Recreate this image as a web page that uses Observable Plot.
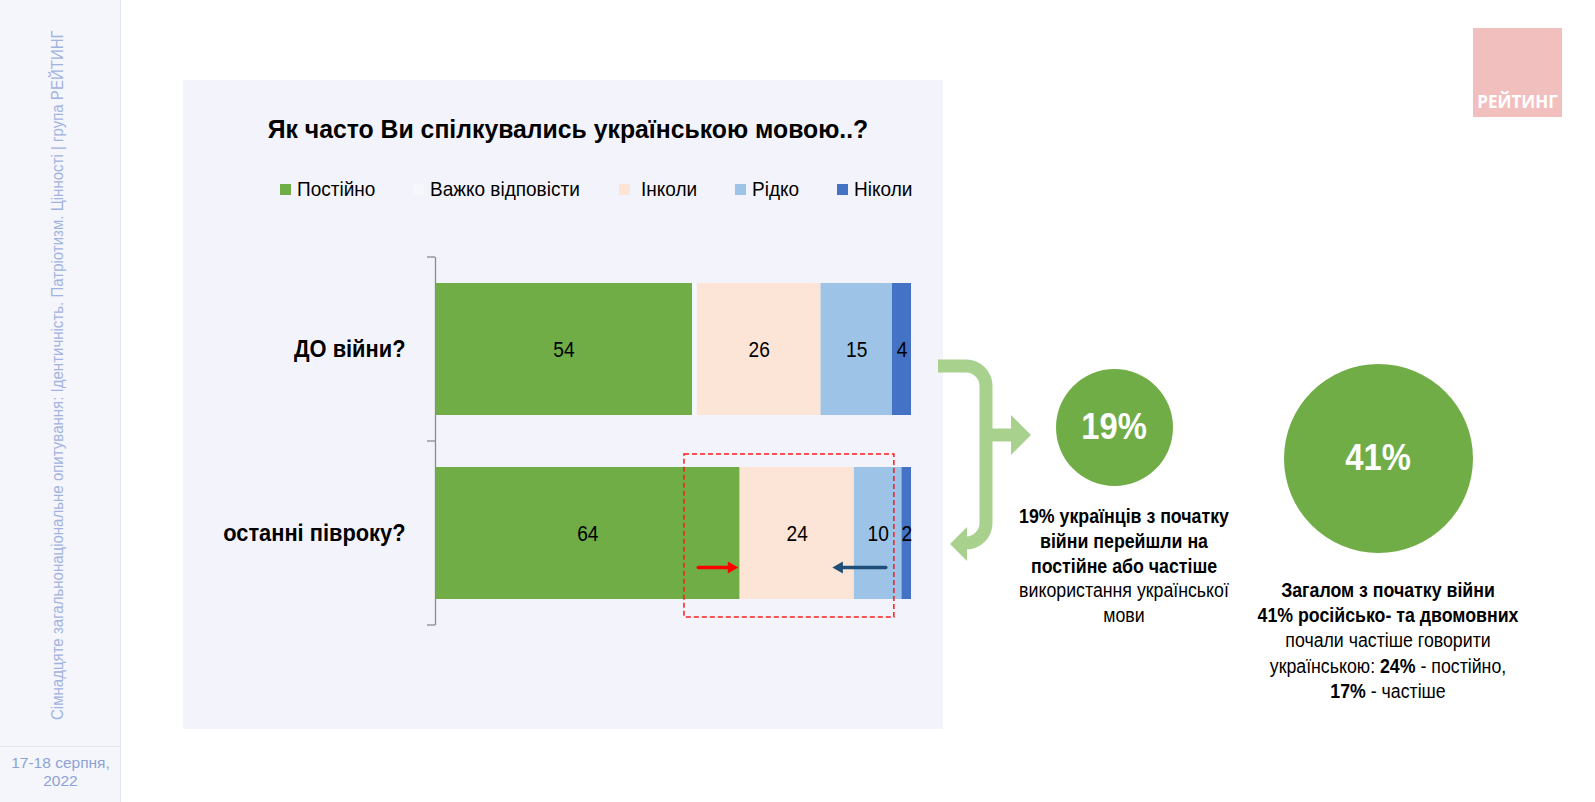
<!DOCTYPE html>
<html>
<head>
<meta charset="utf-8">
<script src="https://cdn.jsdelivr.net/npm/d3@7"></script>
<script src="https://cdn.jsdelivr.net/npm/@observablehq/plot@0.6"></script>
<style>
  html, body { margin: 0; padding: 0; background: #fff; }
  #page { position: relative; width: 1595px; height: 802px; overflow: hidden; background: #fff;
          font-family: "Liberation Sans", Arial, sans-serif; color: #000; }
  .abs { position: absolute; }
  #sidebar { left: 0; top: 0; width: 120px; height: 802px; background: #f4f6fc; border-right: 1px solid #e2e6f0; }
  #sidesep { left: 0; top: 746px; width: 120px; height: 1px; background: #e2e6f0; }
  #vtext { left: 58px; top: 375px; white-space: nowrap; font-size: 16px; line-height: 18px; color: #a3b3df; }
  #date { left: 0; top: 754px; width: 121px; text-align: center;
          font-size: 15.5px; line-height: 18px; color: #8ea2d6; }
  #panel { left: 183px; top: 80px; width: 760px; height: 649px; background: #f3f4fb; }
  #title { left: 182px; top: 114px; width: 772px; text-align: center; font-weight: bold; font-size: 26px; line-height: 30px;
           transform: scaleX(0.953); transform-origin: 50% 50%; white-space: nowrap; }
  .lg-sw { width: 11px; height: 11px; top: 184px; }
  .lg-tx { top: 177px; font-size: 21px; line-height: 24px; white-space: nowrap; transform: scaleX(0.905); transform-origin: 0 50%; }
  #chart { left: 182px; top: 240px; }
  .circle { border-radius: 50%; background: #70ad47; color: #fff; font-weight: bold; display: flex;
            align-items: center; justify-content: center; }
  .circle span { display: inline-block; transform: scaleX(0.91); }
  .note { text-align: center; font-size: 19.5px; white-space: nowrap; transform: scaleX(0.91); transform-origin: 50% 0; }
  #logo { left: 1473px; top: 28px; width: 89px; height: 89px; background: #f2bfbf; }
  #logotext { left: 1463px; top: 92px; width: 109px; text-align: center; color: #fff; font-weight: bold;
              font-family: "Open Sans", "Liberation Sans", sans-serif; font-size: 17px; line-height: 20px; }
</style>
</head>
<body>
<div id="page">
  <div id="sidebar" class="abs"></div>
  <div id="sidesep" class="abs"></div>
  <div id="vtext" class="abs"></div>
  <div id="date" class="abs"></div>
  <div id="panel" class="abs"></div>
  <div id="title" class="abs"></div>
  <div id="legend"></div>
  <div id="chart" class="abs"></div>
  <svg id="brace" class="abs" style="left:0;top:0" width="1595" height="802"></svg>
  <div id="c1" class="abs circle"></div>
  <div id="c2" class="abs circle"></div>
  <div id="n1" class="abs note"></div>
  <div id="n2" class="abs note"></div>
  <div id="logo" class="abs"></div>
  <div id="logotext" class="abs"></div>
</div>
<script>
// ---------- data ----------
const titleText = "Як часто Ви спілкувались українською мовою..?";
const categories = ["ДО війни?", "останні півроку?"];
const seriesNames = ["Постійно", "Важко відповісти", "Інколи", "Рідко", "Ніколи"];
const seriesColors = ["#70ad47", "#f6f7fb", "#fce4d6", "#9dc3e6", "#4472c4"];
const valuesBefore = [54, 1, 26, 15, 4];
const valuesLastHalfYear = [64, 0, 24, 10, 2];
const unlabeledSeries = ["Важко відповісти"];
const highlightBox = [{cat: "останні півроку?", x1: 52.3, x2: 96.4}];
const redArrow = [{cat: "останні півроку?", tail: 55.2, tip: 63.6}];
const blueArrow = [{cat: "останні півроку?", tail: 94.6, tip: 83.4}];
const circleValues = ["19%", "41%"];
const note1Lines = ["<b>19% українців з початку</b>", "<b>війни перейшли на</b>", "<b>постійне або частіше</b>", "використання української", "мови"];
const note2Lines = ["<b>Загалом з початку війни</b>", "<b>41% російсько- та двомовних</b>", "почали частіше говорити", "українською: <b>24%</b> - постійно,", "<b>17%</b> - частіше"];
const sidebarText = "Сімнадцяте загальнонаціональне опитування: Ідентичність. Патріотизм. Цінності | група РЕЙТИНГ";
const dateLines = ["17-18 серпня,", "2022"];
const logoText = "РЕЙТИНГ";

const FONT = '"Liberation Sans", Arial, sans-serif';

// ---------- static text ----------
document.getElementById("title").textContent = titleText;
document.getElementById("date").innerHTML = dateLines.join("<br>");
document.getElementById("logotext").textContent = logoText;

// sidebar vertical text, fitted to the reference length
const vt = document.getElementById("vtext");
vt.textContent = sidebarText;
const vw = vt.offsetWidth, vh = vt.offsetHeight;
const vs = 690 / vw;
vt.style.transformOrigin = "0 0";
vt.style.top = (375 - vw * vs / 2) + "px";
vt.style.transform = `translate(0px, ${vw * vs}px) rotate(-90deg) scaleX(${vs})`;
vt.style.left = (58 - vh / 2) + "px";

// legend
const legendSwatchX = [280, 413, 619, 735, 837];
const legendTextX = [297, 430, 641, 752, 854];
const legendRoot = d3.select("#legend");
seriesNames.forEach((s, i) => {
  legendRoot.append("div").attr("class", "abs lg-sw").style("left", legendSwatchX[i] + "px").style("background", seriesColors[i]);
  legendRoot.append("div").attr("class", "abs lg-tx").style("left", legendTextX[i] + "px").text(s);
});

// ---------- chart ----------
const rows = [];
[valuesBefore, valuesLastHalfYear].forEach((vals, ci) =>
  seriesNames.forEach((s, si) => rows.push({cat: categories[ci], series: s, value: vals[si]})));

const pInner = 0.283;
const bracket = (index, scales, values, dim) => {
  const x0 = scales.x(0);
  const top = dim.marginTop, bottom = dim.height - dim.marginBottom;
  const n = categories.length;
  const g = d3.create("svg:g").attr("stroke", "#8c8c8c").attr("stroke-width", 1.3);
  for (let k = 0; k <= n; k++) {
    const yy = top + k * (bottom - top) / n;
    g.append("line").attr("x1", x0 - 8).attr("x2", x0).attr("y1", yy).attr("y2", yy);
  }
  return g.node();
};

const arrowMarks = (data, color, dir) => [
  Plot.arrow(data, {x1: "tail", x2: "tip", y1: "cat", y2: "cat", stroke: color, strokeWidth: 3.5,
    headLength: 0, insetEnd: 8, dy: 34}),
  Plot.dot(data, {x: "tip", y: "cat", symbol: "triangle", r: 4.5, fill: color, stroke: "none",
    rotate: dir > 0 ? 90 : -90, dx: -6.9 * dir, dy: 34})
];

const chart = Plot.plot({
  width: 761,
  height: 400,
  marginLeft: 253,
  marginRight: 32,
  marginTop: 17,
  marginBottom: 15,
  style: {background: "transparent", fontFamily: FONT, fontSize: "22px", color: "#000", overflow: "visible"},
  x: {domain: [0, 100], axis: null},
  y: {domain: categories, paddingInner: pInner, paddingOuter: pInner / 2, label: null},
  color: {domain: seriesNames, range: seriesColors},
  marks: [
    Plot.barX(rows, Plot.stackX({x: "value", y: "cat", fill: "series", order: seriesNames})),
    Plot.text(rows, Plot.stackX({
      x: "value", y: "cat", z: "series", order: seriesNames,
      text: d => unlabeledSeries.includes(d.series) ? "" : String(d.value),
      fill: "#000", fontSize: 22
    })),
    Plot.axisY({tickSize: 0, tickPadding: 30, fontSize: 24, fontWeight: "bold", label: null}),
    Plot.ruleX([0], {stroke: "#8c8c8c", strokeWidth: 1.3}),
    bracket,
    Plot.barX(highlightBox, {x1: "x1", x2: "x2", y: "cat", fill: "none", stroke: "#ff1a1a",
      strokeWidth: 1.5, strokeDasharray: "5,3", insetTop: -13, insetBottom: -18}),
    ...arrowMarks(redArrow, "#ff0000", 1),
    ...arrowMarks(blueArrow, "#1f4e79", -1)
  ]
});
document.getElementById("chart").appendChild(chart);

// narrow the chart's texts horizontally (the reference uses a condensed face)
function squeeze(el, s) {
  const t = el.getAttribute("transform") || "";
  const xa = el.getAttribute("x");
  let x = 0;
  if (xa != null && /^-?[\d.]+$/.test(xa.trim())) { x = +xa; el.setAttribute("x", 0); }
  el.setAttribute("transform", `${t} translate(${x},0) scale(${s},1)`);
}
d3.select(chart).selectAll('g[aria-label="y-axis tick label"] text').each(function() { this.style.fontWeight = "bold"; squeeze(this, 0.91); });
d3.select(chart).selectAll('g[aria-label="text"] text').each(function() { squeeze(this, 0.87); });

// ---------- right-side infographic ----------
const brace = d3.select("#brace");
const braceColor = "#a9d18e";
brace.append("path")
  .attr("d", "M938,366 H966 A20,20 0 0 1 986,386 V523 A20,20 0 0 1 966,543 H962")
  .attr("fill", "none").attr("stroke", braceColor).attr("stroke-width", 13);
brace.append("path").attr("d", "M986,435 H1013").attr("stroke", braceColor).attr("stroke-width", 13);
brace.append("polygon").attr("points", "1031,435 1011,415 1011,455").attr("fill", braceColor);
brace.append("polygon").attr("points", "950,544 967,527 967,561").attr("fill", braceColor);

const c1 = document.getElementById("c1");
Object.assign(c1.style, {left: (1114 - 58.5) + "px", top: (427 - 58.5) + "px", width: "117px", height: "117px", fontSize: "36px"});
c1.innerHTML = `<span>${circleValues[0]}</span>`;
const c2 = document.getElementById("c2");
Object.assign(c2.style, {left: (1378 - 94.5) + "px", top: (458 - 94.5) + "px", width: "189px", height: "189px", fontSize: "36px"});
c2.innerHTML = `<span>${circleValues[1]}</span>`;

const n1 = document.getElementById("n1");
Object.assign(n1.style, {left: (1124 - 160) + "px", width: "320px", top: "504px", lineHeight: "24.8px"});
n1.innerHTML = note1Lines.join("<br>");
const n2 = document.getElementById("n2");
Object.assign(n2.style, {left: (1388 - 160) + "px", width: "320px", top: "578px", lineHeight: "25.2px"});
n2.innerHTML = note2Lines.join("<br>");
</script>
</body>
</html>
